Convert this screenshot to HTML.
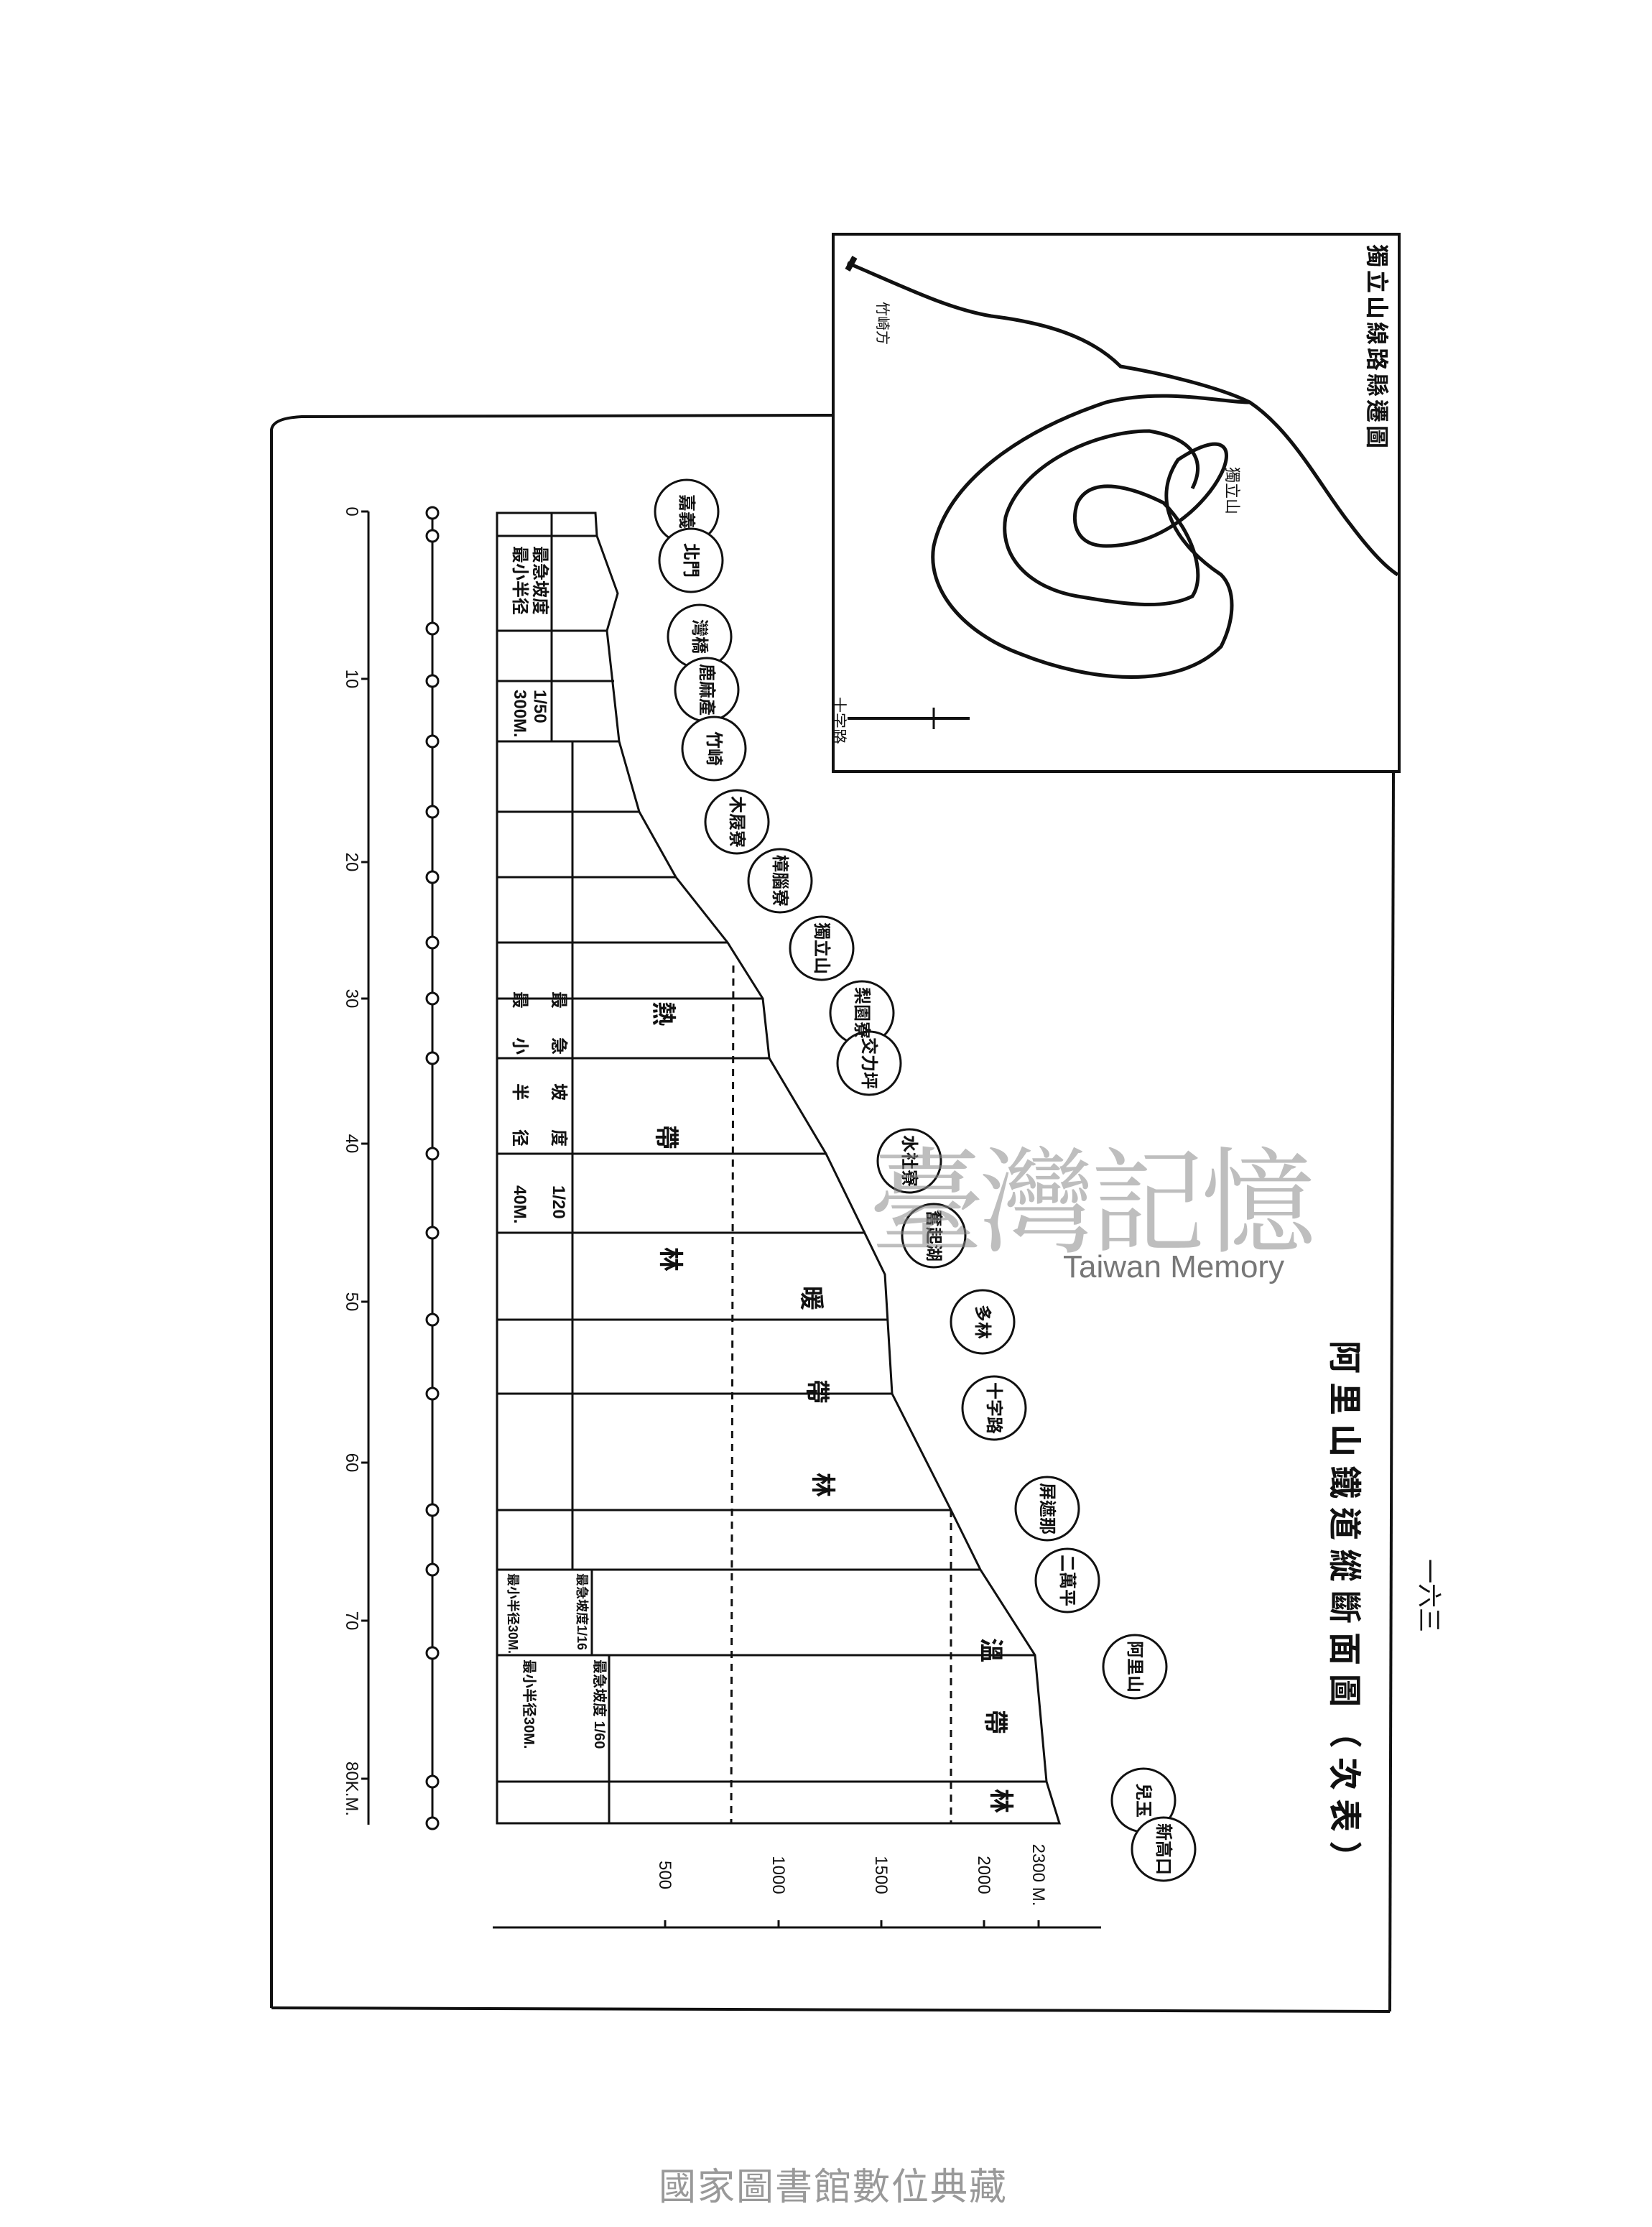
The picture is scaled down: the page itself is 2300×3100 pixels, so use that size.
<!DOCTYPE html>
<html><head><meta charset="utf-8"><style>
html,body{margin:0;padding:0;background:#fff}
svg{display:block}
text{font-family:"Liberation Sans","Noto Sans CJK TC",sans-serif;fill:#111}
</style></head><body>
<svg width="2300" height="3100" viewBox="0 0 2300 3100" xmlns="http://www.w3.org/2000/svg">
<g fill="none" stroke="#111" stroke-width="4">
<!-- outer frame -->
<path d="M378 2795 L378 598 Q380 582 420 580 L1160 578"/>
<path d="M378 2795 L1935 2800"/>
<path d="M1940 1074 L1935 2800"/>
<!-- inset -->
<rect x="1160" y="326" width="788" height="748"/>
</g>
<!-- km axis -->
<g stroke="#111" stroke-width="3" fill="none">
<line x1="513" y1="712" x2="513" y2="2540"/>
<line x1="503" y1="712" x2="513" y2="712"/>
<line x1="503" y1="945" x2="513" y2="945"/>
<line x1="503" y1="1200" x2="513" y2="1200"/>
<line x1="503" y1="1390" x2="513" y2="1390"/>
<line x1="503" y1="1592" x2="513" y2="1592"/>
<line x1="503" y1="1812" x2="513" y2="1812"/>
<line x1="503" y1="2036" x2="513" y2="2036"/>
<line x1="503" y1="2256" x2="513" y2="2256"/>
<line x1="503" y1="2476" x2="513" y2="2476"/>
<line x1="602" y1="712" x2="602" y2="2540"/>
</g>
<g stroke="#111" stroke-width="3" fill="#fff">
<circle cx="602" cy="714" r="8"/><circle cx="602" cy="746" r="8"/><circle cx="602" cy="875" r="8"/>
<circle cx="602" cy="948" r="8"/><circle cx="602" cy="1032" r="8"/><circle cx="602" cy="1130" r="8"/>
<circle cx="602" cy="1221" r="8"/><circle cx="602" cy="1312" r="8"/><circle cx="602" cy="1390" r="8"/>
<circle cx="602" cy="1473" r="8"/><circle cx="602" cy="1606" r="8"/><circle cx="602" cy="1716" r="8"/>
<circle cx="602" cy="1837" r="8"/><circle cx="602" cy="1940" r="8"/><circle cx="602" cy="2102" r="8"/>
<circle cx="602" cy="2185" r="8"/><circle cx="602" cy="2301" r="8"/><circle cx="602" cy="2480" r="8"/>
<circle cx="602" cy="2538" r="8"/>
</g>
<g font-size="24">
<text transform="rotate(90 482 712)" x="482" y="712" text-anchor="middle">0</text>
<text transform="rotate(90 482 945)" x="482" y="945" text-anchor="middle">10</text>
<text transform="rotate(90 482 1200)" x="482" y="1200" text-anchor="middle">20</text>
<text transform="rotate(90 482 1390)" x="482" y="1390" text-anchor="middle">30</text>
<text transform="rotate(90 482 1592)" x="482" y="1592" text-anchor="middle">40</text>
<text transform="rotate(90 482 1812)" x="482" y="1812" text-anchor="middle">50</text>
<text transform="rotate(90 482 2036)" x="482" y="2036" text-anchor="middle">60</text>
<text transform="rotate(90 482 2256)" x="482" y="2256" text-anchor="middle">70</text>
<text transform="rotate(90 482 2490)" x="482" y="2490" text-anchor="middle">80K.M.</text>
</g>
<!-- table -->
<g stroke="#111" stroke-width="3" fill="none">
<path d="M692 714 L692 2538 L1475 2538 L1457 2480 L1441 2304 L1365 2185 L1324 2102 L1242 1940 L1232 1774 L1150 1606 L1071 1473 L1062 1390 L1013 1312 L941 1221 L890 1130 L862 1032 L845 878 L860 826 L831 746 L829 714 Z"/>
<line x1="692" y1="746" x2="831" y2="746"/>
<line x1="692" y1="878" x2="845" y2="878"/>
<line x1="692" y1="948" x2="855" y2="948"/>
<line x1="692" y1="1032" x2="862" y2="1032"/>
<line x1="692" y1="1130" x2="890" y2="1130"/>
<line x1="692" y1="1221" x2="941" y2="1221"/>
<line x1="692" y1="1312" x2="1013" y2="1312"/>
<line x1="692" y1="1390" x2="1062" y2="1390"/>
<line x1="692" y1="1473" x2="1071" y2="1473"/>
<line x1="692" y1="1606" x2="1150" y2="1606"/>
<line x1="692" y1="1716" x2="1205" y2="1716"/>
<line x1="692" y1="1837" x2="1235" y2="1837"/>
<line x1="692" y1="1940" x2="1242" y2="1940"/>
<line x1="692" y1="2102" x2="1324" y2="2102"/>
<line x1="692" y1="2185" x2="1365" y2="2185"/>
<line x1="692" y1="2304" x2="1441" y2="2304"/>
<line x1="692" y1="2480" x2="1457" y2="2480"/>
<line x1="768" y1="714" x2="768" y2="1032"/>
<line x1="797" y1="1032" x2="797" y2="2185"/>
<line x1="824" y1="2185" x2="824" y2="2304"/>
<line x1="848" y1="2304" x2="848" y2="2538"/>
<line x1="1021" y1="1344" x2="1018" y2="2538" stroke-dasharray="10 8"/>
<line x1="1324" y1="2102" x2="1324" y2="2538" stroke-dasharray="10 8"/>
<!-- elevation axis -->
<line x1="686" y1="2683" x2="1533" y2="2683"/>
<line x1="926" y1="2673" x2="926" y2="2683"/>
<line x1="1084" y1="2673" x2="1084" y2="2683"/>
<line x1="1227" y1="2673" x2="1227" y2="2683"/>
<line x1="1370" y1="2673" x2="1370" y2="2683"/>
<line x1="1446" y1="2673" x2="1446" y2="2683"/>
</g>
<g font-size="24">
<text transform="rotate(90 918 2610)" x="918" y="2610" text-anchor="middle">500</text>
<text transform="rotate(90 1076 2610)" x="1076" y="2610" text-anchor="middle">1000</text>
<text transform="rotate(90 1219 2610)" x="1219" y="2610" text-anchor="middle">1500</text>
<text transform="rotate(90 1362 2610)" x="1362" y="2610" text-anchor="middle">2000</text>
<text transform="rotate(90 1438 2610)" x="1438" y="2610" text-anchor="middle">2300 M.</text>
</g>
<!-- gradient texts -->
<g font-size="24" font-weight="bold">
<text transform="rotate(90 744 760)" x="744" y="760">最急坡度</text>
<text transform="rotate(90 716 760)" x="716" y="760">最小半径</text>
<text transform="rotate(90 744 960)" x="744" y="960">1/50</text>
<text transform="rotate(90 716 960)" x="716" y="960">300M.</text>
<text transform="rotate(90 770 1380)" x="770" y="1380" letter-spacing="40">最急坡度</text>
<text transform="rotate(90 716 1380)" x="716" y="1380" letter-spacing="40">最小半径</text>
<text transform="rotate(90 770 1650)" x="770" y="1650">1/20</text>
<text transform="rotate(90 716 1650)" x="716" y="1650">40M.</text>
<text font-size="18" transform="rotate(90 804 2190)" x="804" y="2190">最急坡度1/16</text>
<text font-size="18" transform="rotate(90 708 2190)" x="708" y="2190">最小半径30M.</text>
<text font-size="20" transform="rotate(90 828 2310)" x="828" y="2310">最急坡度 1/60</text>
<text font-size="20" transform="rotate(90 730 2310)" x="730" y="2310">最小半径30M.</text>
</g>
<!-- zones -->
<g font-size="34" font-weight="bold">
<text transform="rotate(90 912 1394)" x="912" y="1394">熱</text>
<text transform="rotate(90 916 1566)" x="916" y="1566">帶</text>
<text transform="rotate(90 922 1736)" x="922" y="1736">林</text>
<text transform="rotate(90 1118 1790)" x="1118" y="1790">暖</text>
<text transform="rotate(90 1126 1920)" x="1126" y="1920">帶</text>
<text transform="rotate(90 1134 2050)" x="1134" y="2050">林</text>
<text transform="rotate(90 1368 2280)" x="1368" y="2280">溫</text>
<text transform="rotate(90 1374 2380)" x="1374" y="2380">帶</text>
<text transform="rotate(90 1382 2490)" x="1382" y="2490">林</text>
</g>
<!-- stations -->
<g stroke="#111" stroke-width="3" fill="#fff">
<circle cx="956" cy="712" r="44"/><circle cx="962" cy="780" r="44"/>
<circle cx="974" cy="886" r="44"/><circle cx="984" cy="960" r="44"/><circle cx="994" cy="1042" r="44"/>
<circle cx="1026" cy="1144" r="44"/><circle cx="1086" cy="1226" r="44"/><circle cx="1144" cy="1320" r="44"/>
<circle cx="1200" cy="1410" r="44"/><circle cx="1210" cy="1480" r="44"/><circle cx="1266" cy="1616" r="44"/>
<circle cx="1300" cy="1720" r="44"/><circle cx="1368" cy="1840" r="44"/><circle cx="1384" cy="1960" r="44"/>
<circle cx="1458" cy="2100" r="44"/><circle cx="1486" cy="2200" r="44"/><circle cx="1580" cy="2320" r="44"/>
<circle cx="1592" cy="2506" r="44"/><circle cx="1620" cy="2574" r="44"/>
</g>
<g font-size="24" font-weight="bold" text-anchor="middle">
<text transform="rotate(90 956 712)" x="956" y="720">嘉義</text>
<text transform="rotate(90 962 780)" x="962" y="788">北門</text>
<text transform="rotate(90 974 886)" x="974" y="894">灣橋</text>
<text transform="rotate(90 984 960)" x="984" y="968">鹿麻產</text>
<text transform="rotate(90 994 1042)" x="994" y="1050">竹崎</text>
<text transform="rotate(90 1026 1144)" x="1026" y="1152">木屐寮</text>
<text transform="rotate(90 1086 1226)" x="1086" y="1234">樟腦寮</text>
<text transform="rotate(90 1144 1320)" x="1144" y="1328">獨立山</text>
<text transform="rotate(90 1200 1410)" x="1200" y="1418">梨園寮</text>
<text transform="rotate(90 1210 1480)" x="1210" y="1488">交力坪</text>
<text transform="rotate(90 1266 1616)" x="1266" y="1624">水社寮</text>
<text transform="rotate(90 1300 1720)" x="1300" y="1728">奮起湖</text>
<text transform="rotate(90 1368 1840)" x="1368" y="1848">多林</text>
<text transform="rotate(90 1384 1960)" x="1384" y="1968">十字路</text>
<text transform="rotate(90 1458 2100)" x="1458" y="2108">屏遮那</text>
<text transform="rotate(90 1486 2200)" x="1486" y="2208">二萬平</text>
<text transform="rotate(90 1580 2320)" x="1580" y="2328">阿里山</text>
<text transform="rotate(90 1592 2506)" x="1592" y="2514">兒玉</text>
<text transform="rotate(90 1620 2574)" x="1620" y="2582">新高口</text>
</g>
<!-- title -->
<text font-size="46" font-weight="bold" transform="rotate(90 1856 1866)" x="1856" y="1866" letter-spacing="12">阿里山鐵道縱斷面圖（次表）</text>
<text font-size="34" transform="rotate(90 1978 2170)" x="1978" y="2170">一六三</text>
<!-- inset content -->
<text font-size="32" font-weight="bold" transform="rotate(90 1906 340)" x="1906" y="340" letter-spacing="4">獨立山線路縣遷圖</text>
<text font-size="20" transform="rotate(90 1222 420)" x="1222" y="420">竹崎方</text>
<text font-size="22" transform="rotate(90 1708 650)" x="1708" y="650">獨立山</text>
<text font-size="22" transform="rotate(90 1160 970)" x="1160" y="970">十字路</text>
<g fill="none" stroke="#111" stroke-width="5">
<path d="M1180 366 C1260 400 1320 430 1380 440 C1460 450 1520 470 1560 510 C1620 520 1700 540 1740 560 C1800 600 1840 680 1880 730 C1910 770 1930 790 1946 800"/>
<path d="M1740 560 C1700 560 1620 540 1540 560 C1420 600 1320 670 1300 760 C1290 820 1340 880 1420 910 C1520 950 1640 960 1700 900 C1720 860 1720 820 1700 800 C1640 760 1600 700 1640 640 C1700 600 1720 620 1700 660 C1680 700 1620 760 1540 760 C1500 760 1490 730 1500 700 C1520 660 1580 680 1620 700 C1660 740 1680 800 1660 830 C1620 850 1560 840 1500 830 C1440 820 1390 780 1400 720 C1420 650 1520 600 1600 600 C1660 610 1680 640 1660 680"/>
<line x1="1180" y1="1000" x2="1350" y2="1000" stroke-width="4"/>
<line x1="1300" y1="985" x2="1300" y2="1015" stroke-width="3"/>
<line x1="1190" y1="358" x2="1180" y2="376" stroke-width="8"/>
</g>
<!-- watermark -->
<text x="1210" y="1730" font-size="160" fill="#888" fill-opacity="0.55" style="fill:#888;font-family:'Noto Serif CJK SC','Noto Sans CJK TC',serif" letter-spacing="-6">臺灣記憶</text>
<text x="1480" y="1778" font-size="44" style="fill:#777">Taiwan Memory</text>
<!-- footer -->
<text x="1160" y="3062" font-size="52" text-anchor="middle" style="fill:#999" letter-spacing="2">國家圖書館數位典藏</text>
</svg>
</body></html>
